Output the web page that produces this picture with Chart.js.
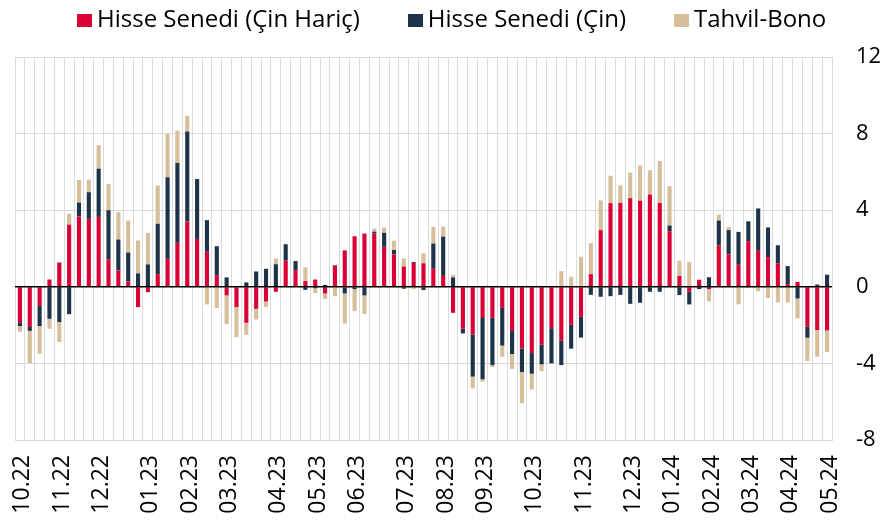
<!DOCTYPE html>
<html>
<head>
<meta charset="utf-8">
<script src="https://cdn.jsdelivr.net/npm/chart.js@4.4.1/dist/chart.umd.min.js"></script>
<style>
  html, body { margin: 0; padding: 0; background: #fff; }
  #wrap { position: relative; width: 884px; height: 523px; }
  #legend {
    position: absolute; top: 0; left: 77px; height: 36px;
    display: flex; font-family: 'Open Sans', sans-serif; font-size: 24px;
    line-height: 36px; color: #000; white-space: nowrap;
  }
  #legend .item { display: flex; margin-right: 48px; }
  #legend .box { width: 15px; height: 13px; margin-top: 14px; margin-right: 5px; }
</style>
</head>
<body>
<div id="wrap">
  <canvas id="myChart"></canvas>
  <div id="legend"></div>
</div>
<script>
// weekly flows, Oct 2022 - May 2024 (83 weeks)
const tickLabels = ["10.22", "11.22", "12.22", "01.23", "02.23", "03.23", "04.23", "05.23", "06.23", "07.23",
  "08.23", "09.23", "10.23", "11.23", "12.23", "01.24", "02.24", "03.24", "04.24", "05.24"];
const tickWeeks = [0, 4, 8, 13, 17, 21, 26, 30, 34, 39, 43, 47, 52, 57, 62, 66, 70, 74, 78, 82];

const hisseExChina = [
  -1.85, -2.1, -1.0, 0.38, 1.27, 3.25, 3.67, 3.55, 3.65, 1.44,
  0.85, 0.28, -1.06, -0.28, 0.66, 1.46, 2.30, 3.41, 2.50, 1.83,
  0.61, -0.45, -1.06, -1.88, -1.15, -0.77, -0.26, 1.37, 0.87, 0.30,
  0.38, -0.35, 1.10, 1.90, 2.64, 2.78, 2.78, 2.09, 1.69, 1.06,
  1.25, 1.23, 0.94, 0.57, -1.36, -2.19, -2.50, -1.63, -1.62, -1.10,
  -2.31, -3.22, -3.46, -3.01, -2.16, -2.82, -1.98, -1.57, 0.66, 2.96,
  4.37, 4.38, 4.63, 4.50, 4.82, 4.38, 2.90, 0.57, -0.26, 0.37,
  -0.12, 2.16, 1.69, 1.15, 2.38, 1.88, 1.55, 1.23, 0.14, 0.26,
  -2.09, -2.26, -2.28
];
const hisseChina = [
  -0.2, -0.2, -1.05, -1.67, -1.84, -1.43, 0.73, 1.39, 2.52, 2.56,
  1.62, 1.51, 0.70, 1.17, 2.63, 4.26, 4.17, 4.70, 3.13, 1.65,
  1.51, 0.49, 0, 0.23, 0.80, 0.94, 1.18, 0.85, 0.47, -0.16,
  -0.07, 0.10, 0.03, -0.35, -0.12, -0.45, 0.10, 0.73, 0.23, -0.10,
  0.05, -0.17, 1.32, 2.05, 0.49, -0.24, -2.19, -3.20, -2.47, -1.97,
  -1.20, -1.23, -1.08, -1.04, -1.84, -1.27, -1.25, -1.08, -0.42, -0.52,
  -0.49, -0.42, -0.89, -0.83, -0.26, -0.26, 0.30, -0.43, -0.66, -0.12,
  0.50, 1.30, 1.27, 1.72, 1.04, 2.21, 1.55, 0.94, 0.94, -0.61,
  -0.57, 0.12, 0.63
];
const tahvilBono = [
  -0.3, -1.7, -1.45, -0.52, -1.04, 0.57, 1.18, 0.66, 1.23, 1.37,
  1.43, 1.67, 1.72, 1.65, 2.0, 2.26, 1.69, 0.82, 0, -0.92,
  -1.11, -1.50, -1.57, -0.63, -0.56, -0.28, 0.30, 0.03, 0.02, 0.71,
  -0.26, -0.28, -0.49, -1.57, -1.15, -0.97, 0.16, 0.28, 0.49, 0.42,
  -0.12, 0.52, 0.87, 0.52, 0.14, -0.03, -0.61, -0.12, -0.10, -0.59,
  -0.78, -1.63, -0.82, -0.35, 0, 0.82, 0.52, 1.57, 1.63, 1.55,
  1.43, 0.92, 1.34, 1.83, 1.27, 2.19, 2.05, 0.80, 1.30, 0,
  -0.64, 0.31, 0.17, -0.92, -0.07, -0.23, -0.59, -0.82, -0.82, -1.04,
  -1.22, -1.39, -1.13
];

// one category per week, only the month starts get a label
const labels = hisseExChina.map((_, i) => {
  const k = tickWeeks.indexOf(i);
  return k >= 0 ? tickLabels[k] : "";
});

const font = "'Open Sans', sans-serif";
const gridColor = "#dadada";

// black zero line drawn over the bars
const zeroLine = {
  id: "zeroLine",
  afterDatasetsDraw(chart) {
    const { ctx, chartArea, scales } = chart;
    const y = scales.y.getPixelForValue(0);
    ctx.save();
    ctx.strokeStyle = "#000";
    ctx.lineWidth = 1.5;
    ctx.beginPath();
    ctx.moveTo(chartArea.left, y);
    ctx.lineTo(chartArea.right, y);
    ctx.stroke();
    ctx.restore();
  }
};

const ctx = document.getElementById("myChart").getContext("2d");
const chart = new Chart(ctx, {
  type: "bar",
  data: {
    labels: labels,
    datasets: [
      { label: "Hisse Senedi (Çin Hariç)", data: hisseExChina, backgroundColor: "#d90036" },
      { label: "Hisse Senedi (Çin)", data: hisseChina, backgroundColor: "#1d3349" },
      { label: "Tahvil-Bono", data: tahvilBono, backgroundColor: "#d7bf9b" }
    ]
  },
  options: {
    responsive: true,
    maintainAspectRatio: false,
    animation: false,
    layout: { padding: { left: 15, right: 2, top: 57, bottom: 0 } },
    datasets: {
      bar: { barPercentage: 1, categoryPercentage: 0.42 }
    },
    plugins: {
      legend: { display: false },
      tooltip: { enabled: false }
    },
    scales: {
      x: {
        stacked: true,
        grid: { color: gridColor, lineWidth: 1, drawTicks: false },
        border: { color: gridColor },
        ticks: {
          autoSkip: false,
          minRotation: 90,
          maxRotation: 90,
          padding: 15,
          labelOffset: 3,
          color: "#000",
          font: { family: font, size: 23 }
        },
        afterFit: (scale) => {
          scale.height = 83;
          scale.paddingLeft = 0;
          scale.paddingRight = 0;
        }
      },
      y: {
        stacked: true,
        position: "right",
        min: -8,
        max: 12,
        grid: { color: gridColor, lineWidth: 1, drawTicks: false },
        border: { color: gridColor },
        ticks: {
          stepSize: 4,
          padding: 24,
          color: "#000",
          font: { family: font, size: 22 }
        },
        afterFit: (scale) => {
          scale.width = 50;
          scale.paddingTop = 0;
          scale.paddingBottom = 0;
        }
      }
    }
  },
  plugins: [zeroLine]
});

// html legend
const legendEl = document.getElementById("legend");
legendEl.innerHTML = chart.data.datasets
  .map(({ label, backgroundColor }) => `
    <div class="item"><span class="box" style="background:${backgroundColor}"></span><span>${label}</span></div>
  `)
  .join("");
</script>
</body>
</html>
